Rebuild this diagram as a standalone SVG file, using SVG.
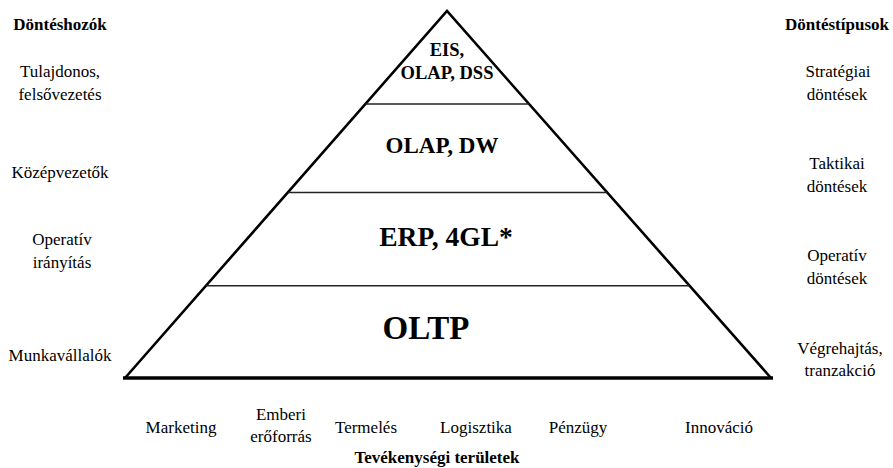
<svg xmlns="http://www.w3.org/2000/svg" width="893" height="468" viewBox="0 0 893 468" font-family="'Liberation Serif', 'DejaVu Serif', 'Times New Roman', serif">
<style>
  text { font-family: "Liberation Serif", "DejaVu Serif", "Times New Roman", serif; fill: #000; }
  .lbl { font-size: 17px; text-anchor: middle; }
  .hdr { font-size: 17px; font-weight: bold; text-anchor: middle; }
  .lvl { font-weight: bold; text-anchor: middle; }
  .side { fill: none; stroke: #000; stroke-width: 2.6; stroke-linejoin: miter; }
  .base { stroke: #000; stroke-width: 3.4; }
  .div { stroke: #222; stroke-width: 1.6; }
</style>
<rect width="893" height="468" fill="#fff"/>
<g id="connectors">
  <polyline class="side" points="125,378 447,11 771,378"/>
  <line class="base" x1="123" y1="378" x2="773" y2="378"/>
  <line class="div" x1="365.4" y1="104" x2="529.1" y2="104"/>
  <line class="div" x1="287.8" y1="192.5" x2="607.2" y2="192.5"/>
  <line class="div" x1="206" y1="285.7" x2="689.5" y2="285.7"/>
</g>
<g id="level-eis">
  <text class="lvl" x="447" y="56" font-size="18.5">EIS,</text>
  <text class="lvl" x="447" y="79" font-size="18.5">OLAP, DSS</text>
</g>
<g id="level-olap">
  <text class="lvl" x="442" y="153" font-size="23">OLAP, DW</text>
</g>
<g id="level-erp">
  <text class="lvl" x="446" y="246" font-size="27.5">ERP, 4GL*</text>
</g>
<g id="level-oltp">
  <text class="lvl" x="426" y="339" font-size="33">OLTP</text>
</g>
<g id="deciders">
  <text class="hdr" x="60" y="30">Döntéshozók</text>
  <text class="lbl" x="60" y="77">Tulajdonos,</text>
  <text class="lbl" x="60" y="100">felsővezetés</text>
  <text class="lbl" x="60" y="178">Középvezetők</text>
  <text class="lbl" x="62" y="245">Operatív</text>
  <text class="lbl" x="62" y="268">irányítás</text>
  <text class="lbl" x="60" y="361">Munkavállalók</text>
</g>
<g id="decision-types">
  <text class="hdr" x="837" y="30">Döntéstípusok</text>
  <text class="lbl" x="838" y="77">Stratégiai</text>
  <text class="lbl" x="837" y="100">döntések</text>
  <text class="lbl" x="837" y="169">Taktikai</text>
  <text class="lbl" x="837" y="192">döntések</text>
  <text class="lbl" x="837" y="261">Operatív</text>
  <text class="lbl" x="837" y="284">döntések</text>
  <text class="lbl" x="840" y="354">Végrehajtás,</text>
  <text class="lbl" x="840" y="376">tranzakció</text>
</g>
<g id="areas">
  <text class="lbl" x="181" y="433">Marketing</text>
  <text class="lbl" x="281" y="420">Emberi</text>
  <text class="lbl" x="281" y="442">erőforrás</text>
  <text class="lbl" x="366" y="433">Termelés</text>
  <text class="lbl" x="476" y="433">Logisztika</text>
  <text class="lbl" x="578" y="433">Pénzügy</text>
  <text class="lbl" x="719" y="433">Innováció</text>
  <text class="hdr" x="437" y="463">Tevékenységi területek</text>
</g>
</svg>
